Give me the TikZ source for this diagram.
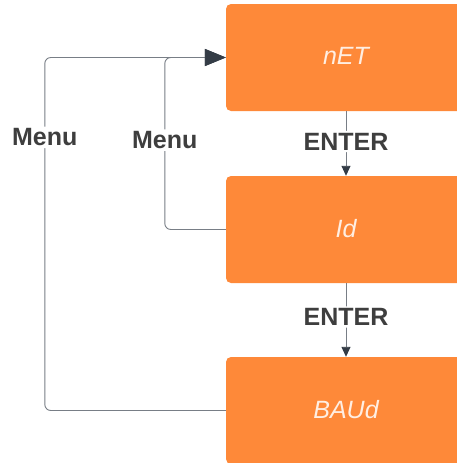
\documentclass[tikz,border=0pt]{standalone}
\usepackage{fontspec}
\setmainfont{Liberation Sans}
\usetikzlibrary{arrows.meta}
\definecolor{boxorange}{RGB}{254,137,57}
\definecolor{linegray}{RGB}{120,126,134}
\definecolor{tipdark}{RGB}{52,60,70}
\definecolor{labelgray}{RGB}{62,62,62}
\definecolor{boxtext}{RGB}{255,238,226}
\begin{document}
\begin{tikzpicture}[x=1pt, y=-1pt,
  menubox/.style={fill=boxorange, rounded corners=5pt, minimum width=240pt, minimum height=107pt, inner sep=0pt, text=boxtext, font=\fontsize{25}{25}\selectfont\itshape},
  link/.style={draw=linegray, line width=0.9pt, rounded corners=6pt},
  keylabel/.style={fill=white, text=labelgray, inner sep=2pt, font=\fontsize{25}{25}\selectfont\bfseries},
  bigtip/.style={-{Triangle[length=21pt, width=17pt, color=tipdark]}},
  smalltip/.style={-{Triangle[length=10pt, width=9pt, color=tipdark]}}]
% page size
\useasboundingbox (0,0) rectangle (457,463);
\clip (0,0) rectangle (457,463);

% the three settings
\node[menubox] (net) at (346,57.5) {\raisebox{3pt}{nET}};
\node[menubox] (id) at (346,229.5) {\raisebox{2pt}{Id}};
\node[menubox] (baud) at (346,410.5) {\raisebox{2pt}{BAUd}};

% ENTER goes down
\draw[link, smalltip] (net) -- node[keylabel, yshift=2pt] {ENTER} (id);
\draw[link, smalltip] (id) -- node[keylabel, yshift=3pt] {ENTER} (baud);

% Menu goes back up
\draw[link, bigtip] (baud.west) -- ++(-181,0) |- node[keylabel, pos=0.387] {Menu} (net.west);
\draw[link, bigtip] (id.west) -- ++(-61,0) |- node[keylabel, pos=0.26] {Menu} (net.west);
\end{tikzpicture}
\end{document}
